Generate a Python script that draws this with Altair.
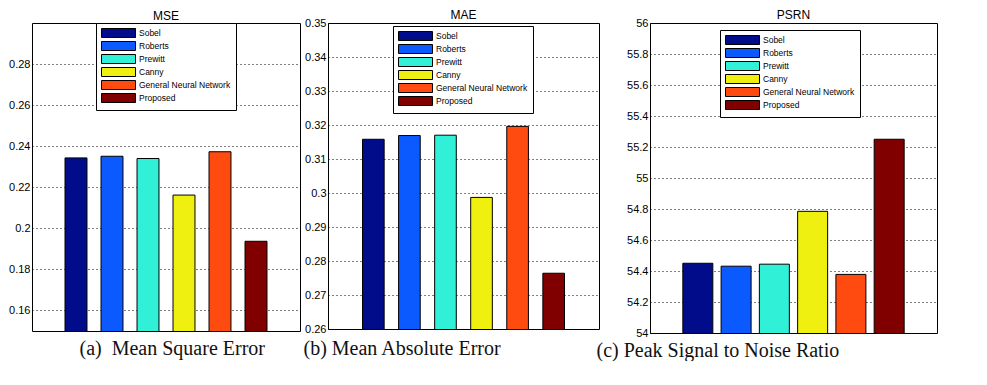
import altair as alt
import pandas as pd

methods = ["Sobel", "Roberts", "Prewitt", "Canny", "General Neural Network", "Proposed"]
colors = ["#000c8a", "#0a5aff", "#30f0d8", "#f0f010", "#ff4a10", "#800000"]

mse = [0.2343, 0.2351, 0.2340, 0.2162, 0.2373, 0.1937]
mae = [0.3158, 0.3169, 0.3170, 0.2987, 0.3196, 0.2764]
psrn = [54.450, 54.431, 54.444, 54.785, 54.378, 55.250]

mse_ticks = [0.16, 0.18, 0.2, 0.22, 0.24, 0.26, 0.28]
mae_ticks = [0.26, 0.27, 0.28, 0.29, 0.3, 0.31, 0.32, 0.33, 0.34, 0.35]
psrn_ticks = [54, 54.2, 54.4, 54.6, 54.8, 55, 55.2, 55.4, 55.6, 55.8, 56]

titles = ["MSE", "MAE", "PSRN"]
captions = ["(a)\u00a0 Mean Square Error", "(b) Mean Absolute Error", "(c) Peak Signal to Noise Ratio"]

SANS = "Liberation Sans"
SERIF = "Liberation Serif"


def panel(values, domain, ticks, title, caption, width, height, inner, outer,
          lx, ly, cap_x, cap_y, t_off):
    df = pd.DataFrame({"method": methods, "value": values})
    return alt.Chart(
        df,
        title=alt.Title(title, font=SANS, fontSize=12, fontWeight="normal",
                        color="black", offset=t_off),
    ).mark_bar(stroke="black", strokeWidth=1, clip=True).encode(
        x=alt.X("method:N", sort=methods,
                scale=alt.Scale(paddingInner=inner, paddingOuter=outer),
                axis=alt.Axis(labels=False, ticks=False, domain=False, grid=False,
                              title=caption, titleFont=SERIF, titleFontSize=20,
                              titleFontWeight="normal", titleColor="#111111",
                              titleX=cap_x, titleY=cap_y, titleAlign="left",
                              titleBaseline="middle", titleAnchor="start")),
        y=alt.Y("value:Q",
                scale=alt.Scale(domain=domain, zero=False, nice=False),
                axis=alt.Axis(values=ticks, format="~g", title=None, ticks=False,
                              domain=False, grid=True, gridDash=[1, 3],
                              gridColor="black", gridOpacity=1,
                              labelFont=SANS, labelFontSize=11,
                              labelColor="black", labelPadding=2)),
        color=alt.Color("method:N", sort=methods,
                        scale=alt.Scale(domain=methods, range=colors),
                        legend=alt.Legend(
                            title=None, orient="none", legendX=lx, legendY=ly,
                            symbolType="M-1,-1H6.56V1H-1Z", symbolSize=81,
                            symbolStrokeColor="black", symbolStrokeWidth=1,
                            symbolOpacity=1,
                            labelFont=SANS, labelFontSize=8.5, labelColor="black",
                            labelOffset=28, rowPadding=-1, padding=5,
                            strokeColor="black", fillColor="white")),
    ).properties(width=width, height=height)


def spacer(w):
    return alt.Chart(pd.DataFrame({"a": [0]})).mark_text(text="").encode(
        x=alt.value(0), y=alt.value(0)
    ).properties(width=w, height=300, view=alt.ViewBackground(stroke="transparent"))


p1 = panel(mse, [0.15, 0.30], mse_ticks, titles[0], captions[0],
           268, 308, 0.39, 0.917, 64, 0, 47, 17, 0)
p2 = panel(mae, [0.26, 0.35], mae_ticks, titles[1], captions[1],
           271, 306, 0.40, 0.957, 65, 3, -25, 19, -5)
p3 = panel(psrn, [54, 56], psrn_ticks, titles[2], captions[2],
           287, 310, 0.216, 0.858, 70, 7, -54, 17, -5)

chart = alt.hconcat(p1, spacer(8), p2, spacer(31), p3, spacing=10, bounds="flush").resolve_scale(
    color="independent"
).resolve_legend(color="independent").properties(
    padding=0, background="white"
).configure_view(stroke="black", strokeWidth=1)

chart.save("out.html", embed_options={"renderer": "svg", "actions": False})
